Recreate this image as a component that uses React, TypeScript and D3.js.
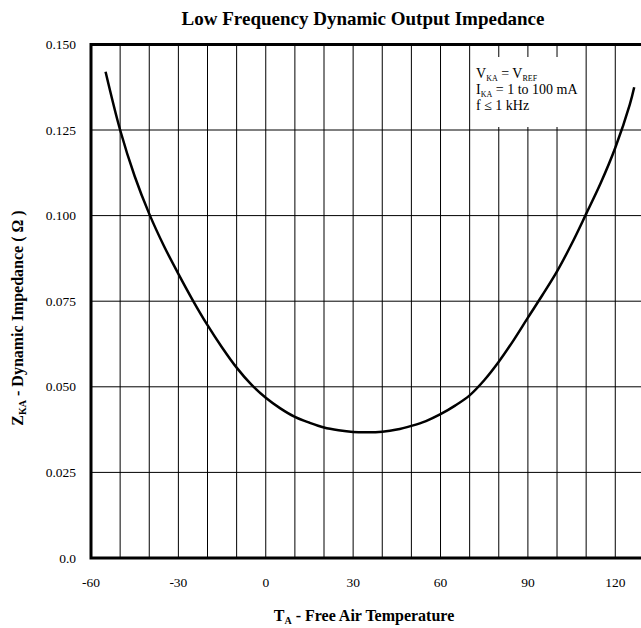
import React from "react";
import * as d3 from "d3";

const temps = [-55, -50, -45, -40, -35, -30, -25, -20, -15, -10, -5, 0, 5, 10, 15, 20, 25, 30, 35, 40, 45, 50, 55, 60, 65, 70, 75, 80, 85, 90, 95, 100, 105, 110, 115, 120, 125, 126.5];
const impedance = [0.142, 0.125, 0.1115, 0.1005, 0.0912, 0.083, 0.0752, 0.068, 0.0615, 0.0556, 0.0507, 0.0468, 0.0437, 0.0412, 0.0395, 0.0381, 0.0373, 0.0368, 0.0367, 0.0369, 0.0375, 0.0386, 0.04, 0.042, 0.0445, 0.0475, 0.0519, 0.0573, 0.0635, 0.0702, 0.0768, 0.0837, 0.0917, 0.1005, 0.1095, 0.1198, 0.1325, 0.1375];
const xTickLabels = [-60, -30, 0, 30, 60, 90, 120];
const yTickValues = [0, 0.025, 0.05, 0.075, 0.1, 0.125, 0.15];
const yTickLabels = ["0.0", "0.025", "0.050", "0.075", "0.100", "0.125", "0.150"];
const xGrid = d3.range(-50, 130, 10);
const yGrid = [0.025, 0.05, 0.075, 0.1, 0.125];

const W = 641;
const H = 628;
const FONT = "'Liberation Serif', 'DejaVu Serif', serif";

export default function App() {
  const x = d3.scaleLinear().domain([-60, 130]).range([91, 644.4]);
  const y = d3.scaleLinear().domain([0, 0.15]).range([558, 44.4]);
  const pts: [number, number][] = temps.map((t, i) => [t, impedance[i]]);
  const line = d3
    .line<[number, number]>()
    .x((d) => x(d[0]))
    .y((d) => y(d[1]))
    .curve(d3.curveCatmullRom);

  return (
    <svg
      width={W}
      height={H}
      style={{ position: "absolute", left: 0, top: 0, background: "#fff" }}
      fontFamily={FONT}
    >
      <rect x={0} y={0} width={W} height={H} fill="#fff" />
      {xGrid.map((v) => (
        <line key={"xg" + v} x1={x(v)} x2={x(v)} y1={y(0.15)} y2={y(0)} stroke="#000" strokeWidth={1} />
      ))}
      {yGrid.map((v) => (
        <line key={"yg" + v} x1={x(-60)} x2={x(130)} y1={y(v)} y2={y(v)} stroke="#000" strokeWidth={1} />
      ))}
      <rect x={474} y={57} width={109} height={70} fill="#fff" />
      <text x={476} y={78} fontSize={14}>
        V<tspan fontSize={8} dy={3}>KA</tspan>
        <tspan dy={-3}> = V</tspan>
        <tspan fontSize={8} dy={3}>REF</tspan>
      </text>
      <text x={476} y={94} fontSize={14}>
        I<tspan fontSize={8} dy={3}>KA</tspan>
        <tspan dy={-3}> = 1 to 100 mA</tspan>
      </text>
      <text x={476} y={110} fontSize={14}>
        f ≤ 1 kHz
      </text>
      <path
        d={`M${x(130) + 5},${y(0.15)} H${x(-60)} V${y(0)} H${x(130) + 5}`}
        fill="none"
        stroke="#000"
        strokeWidth={3}
      />
      <path d={line(pts) || ""} fill="none" stroke="#000" strokeWidth={2.5} />
      {yTickValues.map((v, i) => (
        <text key={"yl" + v} x={76} y={y(v) + 4.5} fontSize={13.5} textAnchor="end">
          {yTickLabels[i]}
        </text>
      ))}
      {xTickLabels.map((v) => (
        <text key={"xl" + v} x={x(v)} y={587} fontSize={13.5} textAnchor="middle">
          {v}
        </text>
      ))}
      <text x={363} y={25} fontSize={19} fontWeight="bold" textAnchor="middle">
        Low Frequency Dynamic Output Impedance
      </text>
      <text x={364} y={621} fontSize={16} fontWeight="bold" textAnchor="middle">
        T<tspan fontSize={10} dy={3}>A</tspan>
        <tspan dy={-3}> - Free Air Temperature</tspan>
      </text>
      <text
        transform={`translate(23,318) rotate(-90)`}
        fontSize={16}
        fontWeight="bold"
        textAnchor="middle"
      >
        Z<tspan fontSize={10} dy={3}>KA</tspan>
        <tspan dy={-3}> - Dynamic Impedance ( Ω )</tspan>
      </text>
    </svg>
  );
}
